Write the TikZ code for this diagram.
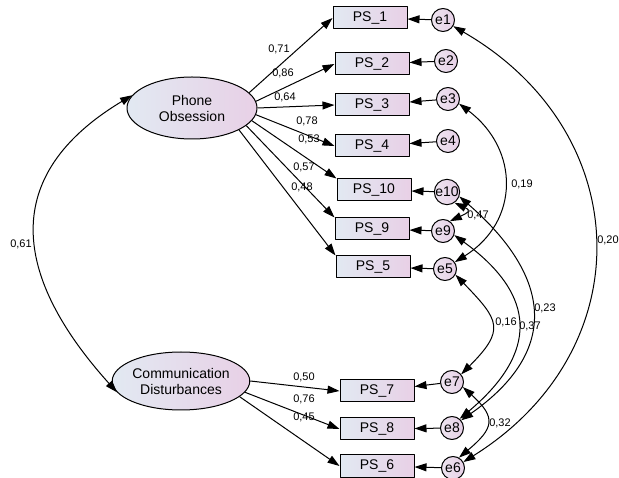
\documentclass[tikz,border=0pt]{standalone}
\usepackage{fontspec}
\setmainfont{Liberation Sans}
\usetikzlibrary{arrows.meta,shapes.geometric}
\definecolor{fillL}{RGB}{226,233,242}
\definecolor{fillR}{RGB}{232,208,230}
\definecolor{errL}{RGB}{238,228,240}
\definecolor{errR}{RGB}{230,208,230}
\begin{document}
\begin{tikzpicture}[x=1pt,y=1pt,line join=round,>={Triangle[length=12pt,width=8pt]},line width=1pt]
	\tikzset{item/.style={draw,rectangle,left color=fillL,right color=fillR,minimum width=74pt,minimum height=22pt,inner sep=0pt,font=\fontsize{14}{16}\selectfont}}
	\tikzset{factor/.style={draw,ellipse,left color=fillL,right color=fillR,minimum width=130pt,minimum height=62pt,inner sep=0pt,align=center,font=\fontsize{14}{16}\selectfont}}
	\tikzset{err/.style={draw,circle,left color=errL,right color=errR,minimum size=23pt,inner sep=0pt,font=\fontsize{14}{16}\selectfont}}
	\tikzset{coef/.style={font=\fontsize{11}{12}\selectfont,inner sep=0pt}}
	\useasboundingbox (0,0) rectangle (619,-478);
	% latent factors
	\node[factor] (PO) at (192,-108) {Phone\\Obsession};
	\node[factor,minimum height=58pt] (CD) at (181,-381) {Communication\\Disturbances};
	% observed items
	\node[item] (PS1) at (370,-18) {PS\_1};
	\node[item] (PS2) at (372,-64) {PS\_2};
	\node[item] (PS3) at (372,-105) {PS\_3};
	\node[item] (PS4) at (372,-146) {PS\_4};
	\node[item] (PS10) at (374,-190) {PS\_10};
	\node[item] (PS9) at (372,-229) {PS\_9};
	\node[item] (PS5) at (373,-267) {PS\_5};
	\node[item] (PS7) at (377,-391) {PS\_7};
	\node[item] (PS8) at (377,-429) {PS\_8};
	\node[item] (PS6) at (377,-466) {PS\_6};
	% error terms
	\node[err] (e1) at (443,-20) {e1};
	\node[err] (e2) at (446,-61) {e2};
	\node[err] (e3) at (448,-99) {e3};
	\node[err] (e4) at (448,-141) {e4};
	\node[err] (e10) at (447,-192) {e10};
	\node[err] (e9) at (443,-231) {e9};
	\node[err] (e5) at (445,-269) {e5};
	\node[err] (e7) at (452,-382) {e7};
	\node[err] (e8) at (452,-428) {e8};
	\node[err] (e6) at (453,-468) {e6};
	\foreach \e/\p in {e1/PS1,e2/PS2,e3/PS3,e4/PS4,e10/PS10,e9/PS9,e5/PS5,e7/PS7,e8/PS8,e6/PS6}
		\draw[->] (\e) -- (\p);
	% loadings
	\draw[->] (PO.15) -- (PS1.west);
	\draw[->] (PO.6) -- (PS2.west);
	\draw[->] (PO.0) -- (PS3.west);
	\draw[->] (PO.-6) -- (PS4.west);
	\draw[->] (PO.-12) -- (PS10.north west);
	\draw[->] (PO.-18) -- (PS9.north west);
	\draw[->] (PO.-25) -- (PS5.north west);
	\draw[->] (CD.0) -- (PS7.west);
	\draw[->] (CD.-10) -- (PS8.west);
	\draw[->] (CD.-15) -- (PS6.west);
	\node[coef] (c1) at (279,-49) {0,71};
	\node[coef] (c2) at (283,-73) {0,86};
	\node[coef] (c3) at (285,-97) {0,64};
	\node[coef] (c4) at (307,-121) {0,78};
	\node[coef] (c10) at (309,-139) {0,53};
	\node[coef] (c9) at (304,-167) {0,57};
	\node[coef] (c5) at (302,-187) {0,48};
	\node[coef] (c7) at (304,-377) {0,50};
	\node[coef] (c8) at (304,-399) {0,76};
	\node[coef] (c6) at (304,-417) {0,45};
	% covariances
	\draw[<->] (PO.168) to[out=211,in=132,looseness=1.34] (CD.190);
	\draw[<->] (e1.-31) to[out=-30,in=32,looseness=1.24] (e6.30);
	\draw[<->] (e3.-23) to[out=-37,in=32,looseness=1.23] (e5.35);
	\draw[<->] (e10.-55) to[out=-25,in=25,looseness=2.6] (e9.55);
	\draw[<->] (e10.-20) to[out=-41,in=35,looseness=1.39] (e8.40);
	\draw[<->] (e9.-20) to[out=-36,in=40,looseness=1.43] (e8.50);
	\draw[<->] (e5.-29) to[out=-46,in=45,looseness=1.62] (e7.40);
	\draw[<->] (e7.-25) to[out=-42,in=40,looseness=1.65] (e6.60);
	\node[coef] (r61) at (21,-244) {0,61};
	\node[coef] (r20) at (608,-240) {0,20};
	\node[coef] (r19) at (522,-184) {0,19};
	\node[coef] (r47) at (478,-215) {0,47};
	\node[coef] (r23) at (545,-308) {0,23};
	\node[coef] (r16) at (506,-322) {0,16};
	\node[coef] (r37) at (530,-326) {0,37};
	\node[coef] (r32) at (500,-423) {0,32};
\end{tikzpicture}
\end{document}
